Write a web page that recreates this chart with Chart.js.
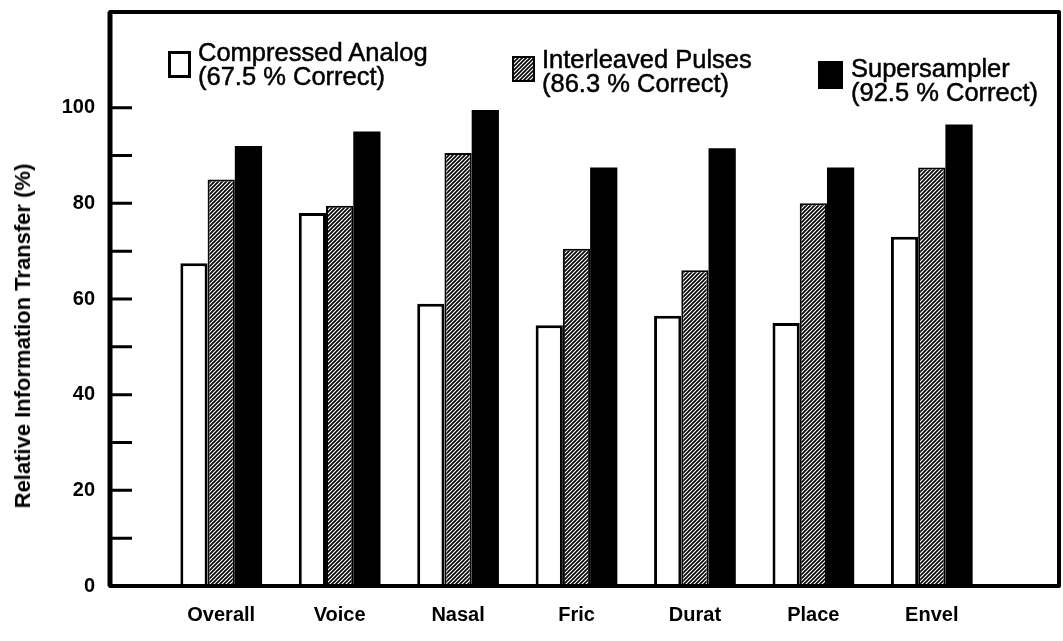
<!DOCTYPE html>
<html>
<head>
<meta charset="utf-8">
<script src="https://cdn.jsdelivr.net/npm/chart.js@4.4.1/dist/chart.umd.min.js"></script>
<style>
  body { margin: 0; background: #fff; }
  #wrap { position: relative; width: 1063px; height: 641px; }
  .key { position: absolute; font-family: "Liberation Sans", Arial, sans-serif; font-size: 25.5px; line-height: 24px; color: #000; white-space: nowrap; -webkit-text-stroke: 0.5px #000; }
  .swatch { position: absolute; box-sizing: border-box; border: 3px solid #000; }
  #ytitle { position: absolute; left: 23px; top: 336px; transform: translate(-50%, -50%) rotate(-90deg); font-family: "Liberation Sans", Arial, sans-serif; font-size: 22px; font-weight: bold; white-space: nowrap; color: #000; }
</style>
</head>
<body>
<div id="wrap">
  <canvas id="chart" width="1063" height="641"></canvas>
  <div id="ytitle">Relative Information Transfer (%)</div>
  <div class="swatch" id="sw0" style="left:168px; top:51px; width:23px; height:27px; background:#fff;"></div>
  <div class="key" style="left:198px; top:40px;">Compressed Analog<br>(67.5 % Correct)</div>
  <div class="swatch" id="sw1" style="left:512px; top:56px; width:23px; height:26px; border-width:2px;"></div>
  <div class="key" style="left:542px; top:47px;">Interleaved Pulses<br>(86.3 % Correct)</div>
  <div class="swatch" id="sw2" style="left:818px; top:61px; width:25px; height:28px; background:#000;"></div>
  <div class="key" style="left:851px; top:56px;">Supersampler<br>(92.5 % Correct)</div>
</div>
<script>
const categories = ["Overall", "Voice", "Nasal", "Fric", "Durat", "Place", "Envel"];
const compressedAnalog = [67.5, 78, 59, 54.5, 56.5, 55, 73];
const interleavedPulses = [85, 79.5, 90.5, 70.5, 66, 80, 87.5];
const supersampler = [92, 95, 99.5, 87.5, 91.5, 87.5, 96.5];
const yTickLabels = [0, 20, 40, 60, 80, 100];
const minorTicks = [10, 20, 30, 40, 50, 60, 70, 80, 90, 100];

function makeHatch() {
  const tile = document.createElement("canvas");
  tile.width = 4;
  tile.height = 4;
  const c = tile.getContext("2d");
  c.fillStyle = "#fff";
  c.fillRect(0, 0, 4, 4);
  c.strokeStyle = "#000";
  c.lineWidth = 1.6;
  c.beginPath();
  c.moveTo(-1, 5); c.lineTo(5, -1);
  c.moveTo(-1, 1); c.lineTo(1, -1);
  c.moveTo(3, 5); c.lineTo(5, 3);
  c.stroke();
  return tile;
}

const hatchTile = makeHatch();
const hatch = document.getElementById("chart").getContext("2d").createPattern(hatchTile, "repeat");
document.getElementById("sw1").style.background = `url(${hatchTile.toDataURL()})`;

// box round the plot and the inward ticks on the left side
const framePlugin = {
  id: "frame",
  afterDatasetsDraw(chart) {
    const { ctx, chartArea, scales } = chart;
    const left = 110;
    const right = 1059;
    const top = chartArea.top;
    const bottom = scales.y.getPixelForValue(0);
    ctx.save();
    ctx.strokeStyle = "#000";
    ctx.lineWidth = 4;
    ctx.lineJoin = "round";
    ctx.strokeRect(left, top, right - left, bottom - top);
    ctx.lineWidth = 5;
    ctx.beginPath();
    ctx.moveTo(left, top);
    ctx.lineTo(left, bottom);
    ctx.stroke();
    ctx.lineWidth = 3;
    ctx.beginPath();
    for (const v of minorTicks) {
      const y = scales.y.getPixelForValue(v);
      ctx.moveTo(left, y);
      ctx.lineTo(left + 22, y);
    }
    ctx.stroke();
    ctx.restore();
  },
};

new Chart(document.getElementById("chart"), {
  type: "bar",
  data: {
    labels: categories,
    datasets: [
      {
        label: "Compressed Analog",
        data: compressedAnalog,
        backgroundColor: "#fff",
        borderColor: "#000",
        borderWidth: 3,
      },
      {
        label: "Interleaved Pulses",
        data: interleavedPulses,
        backgroundColor: hatch,
        borderColor: "#000",
        borderWidth: 2,
      },
      {
        label: "Supersampler",
        data: supersampler,
        backgroundColor: "#000",
        borderColor: "#000",
        borderWidth: 0,
      },
    ],
  },
  options: {
    responsive: false,
    animation: false,
    devicePixelRatio: 1,
    layout: { padding: { top: 12, right: 72, left: 0, bottom: 0 } },
    plugins: {
      legend: { display: false },
      tooltip: { enabled: false },
    },
    datasets: {
      bar: { barPercentage: 1.0, categoryPercentage: 0.69 },
    },
    scales: {
      x: {
        grid: { display: false },
        border: { display: false },
        ticks: {
          color: "#000",
          padding: 9,
          font: { family: "'Liberation Sans', Arial, sans-serif", size: 20, weight: "bold" },
        },
        afterFit: (scale) => { scale.height = 55; },
      },
      y: {
        min: 0,
        max: 120,
        grid: { display: false, drawTicks: false },
        border: { display: false },
        afterBuildTicks: (scale) => {
          scale.ticks = yTickLabels.map((v) => ({ value: v }));
        },
        ticks: {
          color: "#000",
          padding: 67,
          font: { family: "'Liberation Sans', Arial, sans-serif", size: 20, weight: "bold" },
        },
        afterFit: (scale) => {
          scale.width = 162;
          scale.paddingTop = 0;
          scale.paddingBottom = 0;
        },
      },
    },
  },
  plugins: [framePlugin],
});
</script>
</body>
</html>
